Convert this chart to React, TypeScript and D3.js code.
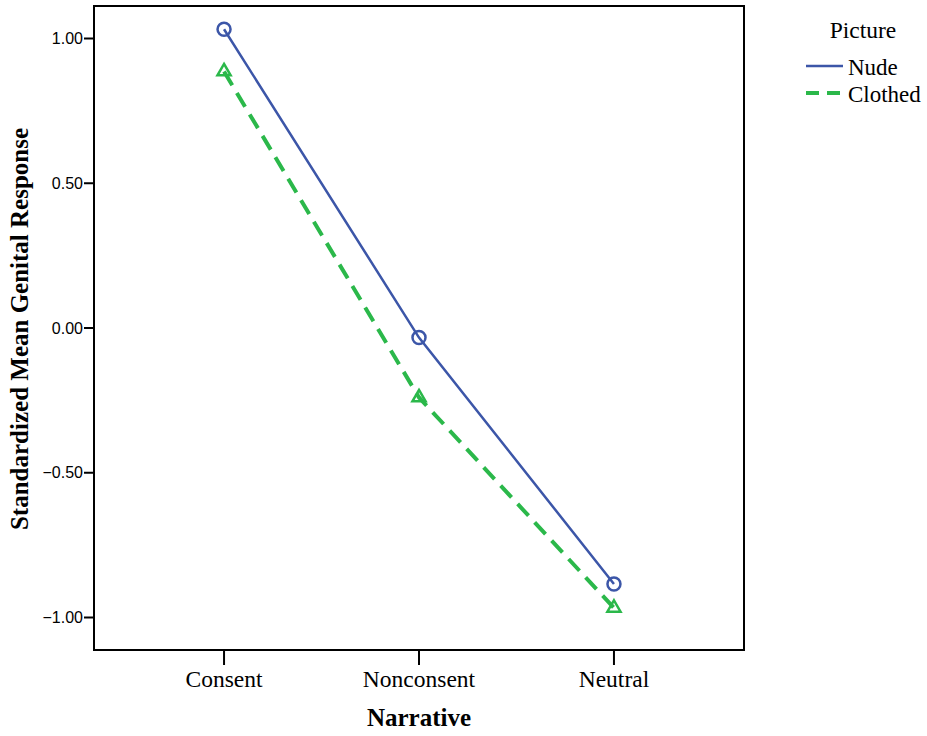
import React from "react";
import * as d3 from "d3";

const categories = ["Consent", "Nonconsent", "Neutral"];
const nudeValues = [1.032, -0.033, -0.884];
const clothedValues = [0.886, -0.24, -0.967];
const yTicks = [1.0, 0.5, 0.0, -0.5, -1.0];
const seriesNames = ["Nude", "Clothed"];

const W = 927, H = 736;
const left = 94, right = 744, top = 6, bottom = 650;
const serif = "'Liberation Serif', 'Times New Roman', serif";

export default function App() {
  const x = d3.scalePoint<string>().domain(categories).range([left, right]).padding(0.667);
  const y = d3.scaleLinear().domain([-1, 1]).range([617.5, 38.5]);
  const line = d3.line<number>().x((_, i) => x(categories[i])!).y((d) => y(d));
  const blue = "#3c56a8";
  const green = "#2bb84a";
  const tri = d3.symbol().type(d3.symbolTriangle).size(75)();
  return (
    <svg width={W} height={H} style={{ position: "absolute", left: 0, top: 0 }}>
      <rect x={0} y={0} width={W} height={H} fill="#fff" />
      <rect x={left} y={top} width={right - left} height={bottom - top} fill="none" stroke="#000" strokeWidth={2} />
      {yTicks.map((t) => (
        <g key={t}>
          <line x1={left - 10} x2={left} y1={y(t)} y2={y(t)} stroke="#000" strokeWidth={2} />
          <text x={left - 11} y={y(t)} dy="0.35em" textAnchor="end" fontFamily="'Liberation Sans', Arial, sans-serif" fontSize={16}>
            {d3.format(".2f")(t)}
          </text>
        </g>
      ))}
      {categories.map((c) => (
        <g key={c}>
          <line x1={x(c)} x2={x(c)} y1={bottom} y2={bottom + 15} stroke="#000" strokeWidth={2} />
          <text x={x(c)} y={bottom + 37} textAnchor="middle" fontFamily={serif} fontSize={23.5}>
            {c}
          </text>
        </g>
      ))}
      <text x={(left + right) / 2} y={726} textAnchor="middle" fontFamily={serif} fontWeight="bold" fontSize={25}>
        Narrative
      </text>
      <text transform={`translate(28,${(top + bottom) / 2 + 1}) rotate(-90)`} textAnchor="middle" fontFamily={serif} fontWeight="bold" fontSize={25}>
        Standardized Mean Genital Response
      </text>
      <path d={line(nudeValues)!} fill="none" stroke={blue} strokeWidth={2.5} />
      <path d={line(clothedValues)!} fill="none" stroke={green} strokeWidth={4} strokeDasharray="16,9" />
      {nudeValues.map((v, i) => (
        <circle key={i} cx={x(categories[i])} cy={y(v)} r={6.5} fill="none" stroke={blue} strokeWidth={2.5} />
      ))}
      {clothedValues.map((v, i) => (
        <path key={i} d={tri!} transform={`translate(${x(categories[i])},${y(v)})`} fill="none" stroke={green} strokeWidth={2.5} />
      ))}
      <text x={863} y={38} textAnchor="middle" fontFamily={serif} fontSize={23.5}>
        Picture
      </text>
      {seriesNames.map((s, i) => (
        <g key={s}>
          <line x1={806} x2={843} y1={66 + i * 27} y2={66 + i * 27} stroke={i === 0 ? blue : green} strokeWidth={i === 0 ? 2.5 : 4} strokeDasharray={i === 0 ? undefined : "13,8"} />
          <text x={848} y={67 + i * 27} dy="0.35em" fontFamily={serif} fontSize={23}>
            {s}
          </text>
        </g>
      ))}
    </svg>
  );
}
